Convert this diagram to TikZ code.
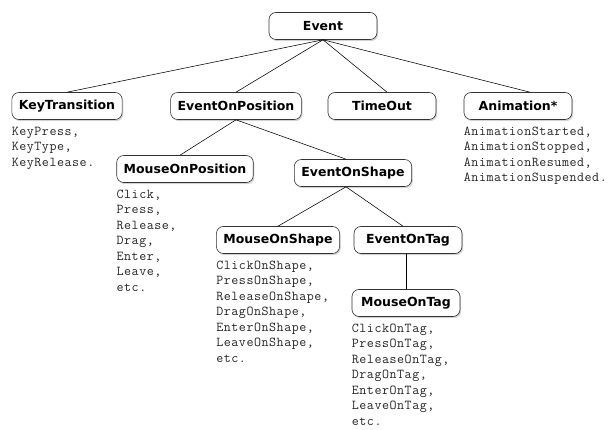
\documentclass[tikz,border=0pt]{standalone}
\usepackage{fontspec}
\setmainfont{DejaVu Sans}
\newfontfamily\evmono{Latin Modern Mono}[LetterSpace=4]
\usetikzlibrary{shadows}
\tikzset{
  evbox/.style={draw=black!80, line width=.6pt, rounded corners=7pt, fill=white,
    minimum width=108pt, minimum height=27pt, inner xsep=7pt,
    font=\fontsize{12.5}{14}\selectfont\bfseries,
    drop shadow={opacity=.35, shadow xshift=1.2pt, shadow yshift=-1.6pt}},
  evlist/.style={anchor=north west, inner sep=0pt, align=left,
    font=\evmono\fontsize{13.6}{15.5}\selectfont, text=black!85},
  evlink/.style={draw=black, line width=.55pt}
}

\begin{document}
\begin{tikzpicture}[x=1pt,y=-1pt]
\useasboundingbox (0,0) rectangle (616,430);

% class boxes
\node[evbox] (event)  at (323,26)  {Event};
\node[evbox] (keytr)  at (67,106)  {KeyTransition};
\node[evbox] (evpos)  at (236,106) {EventOnPosition};
\node[evbox] (timeout) at (382,106) {TimeOut};
\node[evbox] (anim)   at (518,106) {Animation*};
\node[evbox] (mpos)   at (185,169) {MouseOnPosition};
\node[evbox] (evshape) at (353,173) {EventOnShape};
\node[evbox] (mshape) at (278,240) {MouseOnShape};
\node[evbox] (evtag)  at (408,240) {EventOnTag};
\node[evbox] (mtag)   at (406,303) {MouseOnTag};

% links
\draw[evlink] (event.south) -- (keytr.north);
\draw[evlink] (event.south) -- (evpos.north);
\draw[evlink] (event.south) -- ([xshift=5pt]timeout.north);
\draw[evlink] (event.south) -- ([xshift=12pt]anim.north);
\draw[evlink] (evpos.south) -- ([xshift=-5pt]mpos.north);
\draw[evlink] (evpos.south) -- ([xshift=-7pt]evshape.north);
\draw[evlink] ([xshift=-7pt]evshape.south) -- (mshape.north);
\draw[evlink] ([xshift=-7pt]evshape.south) -- ([xshift=-5pt]evtag.north);
\draw[evlink] ([xshift=-2pt]evtag.south) -- (mtag.north);

% event lists under the boxes
\node[evlist] (keylist) at ([yshift=-7pt]keytr.south west) {KeyPress,\\KeyType,\\KeyRelease.};
\node[evlist] (animlist) at ([yshift=-7pt]anim.south west) {AnimationStarted,\\AnimationStopped,\\AnimationResumed,\\AnimationSuspended.};
\node[evlist] (mposlist) at ([yshift=-7pt]mpos.south west) {Click,\\Press,\\Release,\\Drag,\\Enter,\\Leave,\\etc.};
\node[evlist] (mshapelist) at ([yshift=-7pt]mshape.south west) {ClickOnShape,\\PressOnShape,\\ReleaseOnShape,\\DragOnShape,\\EnterOnShape,\\LeaveOnShape,\\etc.};
\node[evlist] (mtaglist) at ([yshift=-7pt]mtag.south west) {ClickOnTag,\\PressOnTag,\\ReleaseOnTag,\\DragOnTag,\\EnterOnTag,\\LeaveOnTag,\\etc.};
\end{tikzpicture}
\end{document}
